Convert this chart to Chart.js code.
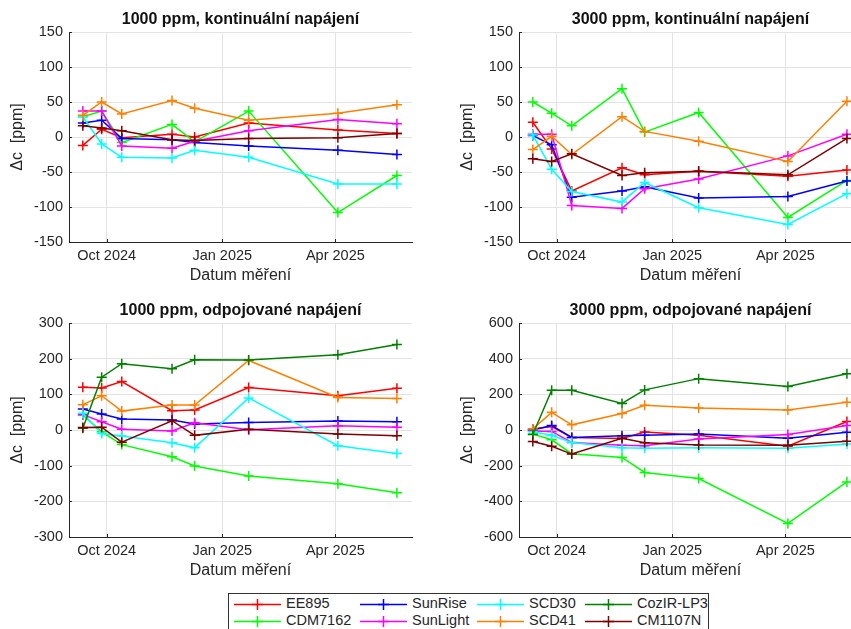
<!DOCTYPE html>
<html>
<head>
<meta charset="utf-8">
<script src="https://cdn.jsdelivr.net/npm/chart.js@4.4.0/dist/chart.umd.min.js"></script>
<style>
  body { margin: 0; background: #fff; }
  #page { position: relative; width: 851px; height: 629px; overflow: hidden; background: #fff; }
  canvas { position: absolute; }
  #legend { position: absolute; left: 228px; top: 593px; width: 481px; height: 44px;
            border: 1px solid #333; box-sizing: border-box; background: #fff;
            font: 14.5px "Liberation Sans", Arial, sans-serif; color: #262626; }
  .item { position: absolute; height: 16px; }
  .item svg { position: absolute; left: 0; top: 0; }
  .item span { position: absolute; top: -1px; white-space: nowrap; }
</style>
</head>
<body>
<div id="page">
  <canvas id="c1" width="425" height="285" style="left:0px;top:0px"></canvas>
  <canvas id="c2" width="425" height="285" style="left:450px;top:0px"></canvas>
  <canvas id="c3" width="425" height="290" style="left:0px;top:290px"></canvas>
  <canvas id="c4" width="425" height="290" style="left:450px;top:290px"></canvas>
  <div id="legend"></div>
</div>
<script>
// measurement dates
const dates = ['2024-09-12', '2024-09-27', '2024-10-13', '2024-11-22', '2024-12-10', '2025-01-22', '2025-04-03', '2025-05-20'];
const tickDates = ['2024-10-01', '2025-01-01', '2025-04-01'];
const tickLabels = ['Oct 2024', 'Jan 2025', 'Apr 2025'];
const xStart = '2024-09-01';
const xEnd = '2025-06-01';

const sensors = ['EE895', 'CDM7162', 'SunRise', 'SunLight', 'SCD30', 'SCD41', 'CozIR-LP3', 'CM1107N'];
const colors = ['#ff0000', '#00ff00', '#0000ff', '#ff00ff', '#00ffff', '#ff8000', '#008000', '#800000'];

// 1000 ppm, kontinualni napajeni (same order as sensors)
const k1000 = [
  [-12, 11, -1, 4, 0, 20, 10, 5],
  [29, 37, -8, 18, -7, 37, -108, -55],
  [20, 24, -2, -4, -8, -13, -19, -25],
  [37, 37, -13, -16, -6, 9, 25, 19],
  [29, -10, -29, -30, -19, -29, -67, -67],
  [31, 50, 33, 52, 41, 24, 34, 46],
  [null, null, null, null, null, null, null, null],
  [16, 13, 9, -4, -5, -2, -1, 5]
];

// 3000 ppm, kontinualni napajeni
const k3000 = [
  [21, -17, -77, -44, -54, -49, -56, -47],
  [50, 34, 16, 69, 7, 35, -115, -62],
  [2, -11, -86, -77, -71, -87, -85, -63],
  [4, 4, -98, -102, -74, -60, -27, 4],
  [3, -46, -78, -93, -65, -101, -125, -81],
  [-18, 1, -25, 29, 8, -6, -35, 51],
  [null, null, null, null, null, null, null, null],
  [-31, -35, -24, -55, -51, -49, -54, -2]
];

// 1000 ppm, odpojovane napajeni
const o1000 = [
  [120, 118, 136, 54, 56, 119, 96, 117],
  [42, -5, -41, -75, -101, -129, -151, -176],
  [59, 45, 31, 28, 17, 21, 25, 23],
  [43, 23, 2, -3, 20, 1, 12, 8],
  [47, -10, -17, -36, -50, 90, -44, -66],
  [71, 96, 53, 70, 70, 195, 91, 88],
  [5, 148, 186, 172, 197, 196, 211, 240],
  [7, 8, -34, 26, -15, 2, -11, -16]
];

// 3000 ppm, odpojovane napajeni
const o3000 = [
  [6, 19, -42, -48, -11, -30, -91, 48],
  [-23, -55, -133, -154, -238, -272, -524, -291],
  [0, 25, -42, -32, -29, -23, -46, -13],
  [-6, -8, -70, -86, -88, -50, -25, 25],
  [-10, -30, -70, -99, -103, -99, -103, -78],
  [6, 99, 29, 93, 139, 124, 112, 156],
  [-25, 223, 223, 149, 225, 288, 244, 316],
  [-65, -91, -135, -46, -72, -84, -86, -63]
];

function toDay(s) {
  const p = s.split('-').map(Number);
  return (Date.UTC(p[0], p[1] - 1, p[2]) - Date.UTC(2024, 9, 1)) / 86400000;
}

const days = dates.map(toDay);
const tickDays = tickDates.map(toDay);

Chart.defaults.font.family = '"Liberation Sans", Arial, sans-serif';
Chart.defaults.font.size = 14.5;
Chart.defaults.color = '#262626';

const panelTitle = {
  id: 'panelTitle',
  afterDraw(chart, args, opts) {
    const {ctx, chartArea} = chart;
    ctx.save();
    // small inward tick marks like the original
    ctx.strokeStyle = '#262626';
    ctx.lineWidth = 1;
    ctx.beginPath();
    chart.scales.y.ticks.forEach(t => {
      const y = Math.round(chart.scales.y.getPixelForValue(t.value)) + 0.5;
      ctx.moveTo(chartArea.left, y);
      ctx.lineTo(chartArea.left + 3, y);
    });
    chart.scales.x.ticks.forEach(t => {
      const x = Math.round(chart.scales.x.getPixelForValue(t.value)) + 0.5;
      ctx.moveTo(x, chartArea.bottom);
      ctx.lineTo(x, chartArea.bottom - 3);
    });
    ctx.stroke();
    ctx.font = 'bold 16px "Liberation Sans", Arial, sans-serif';
    ctx.fillStyle = '#111';
    ctx.textAlign = 'center';
    ctx.textBaseline = 'middle';
    ctx.fillText(opts.text, (chartArea.left + chartArea.right) / 2, chartArea.top - 12);
    ctx.restore();
  }
};

function makeChart(id, title, series, yMin, yMax, yStep, topPad) {
  new Chart(document.getElementById(id), {
    type: 'line',
    data: {
      datasets: sensors.map((name, i) => ({
        label: name,
        data: series[i].map((v, j) => ({x: days[j], y: v})),
        borderColor: colors[i],
        backgroundColor: colors[i],
        borderWidth: 1.5,
        pointStyle: 'cross',
        pointRadius: 5,
        pointHoverRadius: 5,
        pointBorderWidth: 1.5,
        tension: 0,
        order: sensors.length - 1 - i
      }))
    },
    options: {
      responsive: false,
      animation: false,
      events: [],
      layout: { padding: {top: topPad, right: 13, bottom: 0, left: 0} },
      plugins: {
        legend: { display: false },
        tooltip: { enabled: false },
        panelTitle: { text: title }
      },
      scales: {
        x: {
          type: 'linear',
          min: toDay(xStart),
          max: toDay(xEnd),
          afterBuildTicks: s => { s.ticks = tickDays.map(v => ({value: v})); },
          afterFit: s => { s.height = 43; },
          ticks: {
            autoSkip: false,
            maxRotation: 0,
            padding: 5,
            callback: v => tickLabels[tickDays.indexOf(v)]
          },
          grid: { color: '#e3e3e3', drawTicks: false },
          border: { color: '#262626' },
          title: { display: true, text: 'Datum měření', font: {size: 16}, padding: {top: 0, bottom: 0} }
        },
        y: {
          min: yMin,
          max: yMax,
          afterFit: s => { s.width = 69; },
          ticks: { stepSize: yStep, padding: 6 },
          grid: { color: '#e3e3e3', drawTicks: false },
          border: { color: '#262626' },
          title: { display: true, text: 'Δc  [ppm]', font: {size: 16}, padding: {top: 8, bottom: 0} }
        }
      }
    },
    plugins: [panelTitle]
  });
}

makeChart('c1', '1000 ppm, kontinuální napájení', k1000, -150, 150, 50, 32);
makeChart('c2', '3000 ppm, kontinuální napájení', k3000, -150, 150, 50, 32);
makeChart('c3', '1000 ppm, odpojované napájení', o1000, -300, 300, 100, 33);
makeChart('c4', '3000 ppm, odpojované napájení', o3000, -600, 600, 200, 33);

// legend: 4 columns, filled column by column
const legend = document.getElementById('legend');
const colX = [5, 131, 248, 356];
const rowY = [2, 19];
sensors.forEach((name, i) => {
  const col = Math.floor(i / 2), row = i % 2;
  const item = document.createElement('div');
  item.className = 'item';
  item.style.left = colX[col] + 'px';
  item.style.top = rowY[row] + 'px';
  item.innerHTML =
    '<svg width="48" height="16"><line x1="0" y1="8.5" x2="47" y2="8.5" stroke="' + colors[i] + '" stroke-width="1.5"/>' +
    '<line x1="23.5" y1="3" x2="23.5" y2="14" stroke="' + colors[i] + '" stroke-width="1.5"/>' +
    '<line x1="18" y1="8.5" x2="29" y2="8.5" stroke="' + colors[i] + '" stroke-width="1.5"/></svg>' +
    '<span style="left:52px">' + name + '</span>';
  legend.appendChild(item);
});
</script>
</body>
</html>
